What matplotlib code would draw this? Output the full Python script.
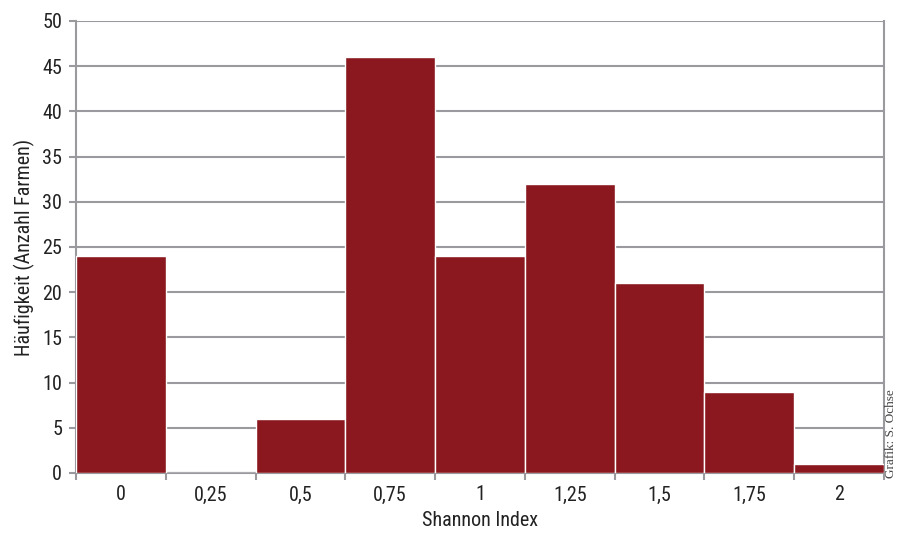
import numpy as np
import matplotlib.pyplot as plt
from matplotlib import font_manager

# data
categories = ['0', '0,25', '0,5', '0,75', '1', '1,25', '1,5', '1,75', '2']
counts = [24, 0, 6, 46, 24, 32, 21, 9, 1]

# condensed sans if there is one, otherwise Liberation Sans
names = {f.name for f in font_manager.fontManager.ttflist}
fam = 'Liberation Sans'
fsize = 13
for cand in ['Liberation Sans Narrow', 'Roboto Condensed', 'Open Sans Condensed', 'DejaVu Sans Condensed']:
    if cand in names:
        fam = cand
        fsize = 14.5
        break
plt.rcParams['font.family'] = [fam, 'DejaVu Sans']

bar_col = '#8a181e'
grid_col = '#9a9a9e'
txt_col = '#222222'

fig = plt.figure(figsize=(8.98, 5.33), dpi=100)
ax = fig.add_axes([76/898, 60/533, 808/898, 452/533])

x = np.arange(len(categories))
ax.bar(x, counts, width=1.0, color=bar_col, edgecolor='white', linewidth=1.0, zorder=3)

ax.set_xlim(-0.5, len(categories) - 0.5)
ax.set_ylim(0, 50)
ax.set_yticks(np.arange(0, 51, 5))
ax.yaxis.grid(True, color=grid_col, linewidth=1.5, zorder=0)
ax.set_axisbelow(True)

ax.set_xticks(x)
ax.set_xticklabels(categories)
ax.set_xticks(np.arange(-0.5, len(categories)), minor=True)
ax.tick_params(axis='x', which='major', length=0, pad=9, labelsize=fsize, labelcolor=txt_col)
ax.tick_params(axis='x', which='minor', length=5, width=1.5, color=grid_col)
ax.tick_params(axis='y', length=5, width=1.5, color=grid_col, labelsize=fsize, labelcolor=txt_col, pad=5)

for s in ['left', 'bottom', 'right']:
    ax.spines[s].set_color(grid_col)
    ax.spines[s].set_linewidth(1.5)
ax.spines['top'].set_visible(False)

ax.set_xlabel('Shannon Index', fontsize=fsize, color=txt_col, labelpad=5)
ax.set_ylabel('Häufigkeit (Anzahl Farmen)', fontsize=fsize, color=txt_col, labelpad=5)

fig.text(885/898, 55/533, 'Grafik: S. Ochse', rotation=90, fontsize=9.5, color='#444444',
         family='Liberation Serif', ha='left', va='bottom')

fig.savefig('out.png', dpi=100)
